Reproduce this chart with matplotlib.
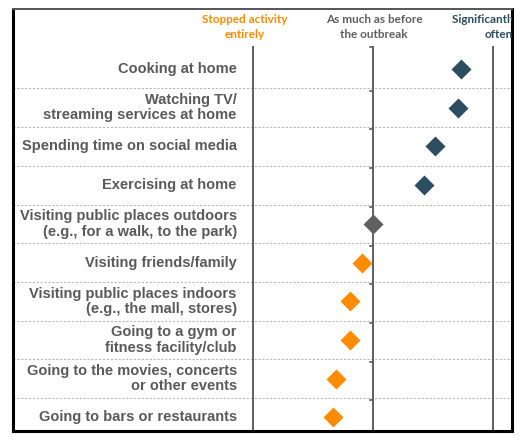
import matplotlib.pyplot as plt
import numpy as np

# données (1 = arrêt total, 3 = comme avant, 5 = beaucoup plus souvent)
activites = [
    "Cooking at home",
    "Watching TV/\nstreaming services at home",
    "Spending time on social media",
    "Exercising at home",
    "Visiting public places outdoors\n(e.g., for a walk, to the park)",
    "Visiting friends/family",
    "Visiting public places indoors\n(e.g., the mall, stores)",
    "Going to a gym or\nfitness facility/club",
    "Going to the movies, concerts\nor other events",
    "Going to bars or restaurants",
]
scores = [4.47, 4.42, 4.03, 3.85, 3.0, 2.82, 2.62, 2.62, 2.38, 2.33]
echelle = [1, 3, 5]
entetes = ["Stopped activity\nentirely", "As much as before\nthe outbreak", "Significantly more\noften"]

bleu = '#2d4d60'
gris = '#5f5f5f'
orange = '#ff8c00'
couleurs_entetes = [orange, gris, bleu]


def couleur(v):
    if v > 3.05:
        return bleu
    if v < 2.95:
        return orange
    return gris


W, H = 526, 443
fig = plt.figure(figsize=(W / 100, H / 100), dpi=100)
# cadre : x 13..512, y 9..431 (pixels)
ax = fig.add_axes([13 / W, 1 - 431 / H, (512 - 13) / W, (431 - 9) / H])

px = 60.0  # pixels par unité
ax.set_xlim(1 - (253 - 13) / px, 1 + (512 - 253) / px)
pas = 38.72
ax.set_ylim((431 - 69) / pas, (9 - 69) / pas)

y = np.arange(len(activites))

# séparateurs pointillés
for s in y[:-1] + 0.5:
    ax.axhline(s, color='#b8b8b8', ls=(0, (2, 1.5)), lw=0.8, zorder=1)

# lignes verticales de l'échelle
haut = (47 - 69) / pas
for v in echelle:
    ax.plot([v, v], [haut, ax.get_ylim()[0]], color=gris, lw=1.4, zorder=2, clip_on=False)

# petites graduations sur la ligne du milieu (vers la gauche)
for s in np.concatenate([[haut], y[:-1] + 0.56]):
    ax.plot([echelle[1] - 0.05, echelle[1]], [s, s], color=gris, lw=1.2, zorder=2)

# losanges
for yi, v in zip(y, scores):
    ax.plot(v, yi, marker='D', ms=10, color=couleur(v), mec='none', zorder=3)

# libellés
for yi, lab in zip(y, activites):
    ax.text(0.73, yi, lab, ha='right', va='center', fontsize=10.55, fontweight='bold',
            color='#5a5a5a', family='Liberation Sans', linespacing=1.12)

# en-têtes
pos_entetes = [0.87, 3.02, 5.1]
for xe, txt, c in zip(pos_entetes, entetes, couleurs_entetes):
    ax.text(xe, (27 - 69) / pas, txt, ha='center', va='center', fontsize=8.5, fontweight='bold',
            color=c, family='Lato', linespacing=1.45, clip_on=True)

ax.set_xticks([])
ax.set_yticks([])
for nom in ['left', 'right', 'bottom']:
    ax.spines[nom].set_color('black')
    ax.spines[nom].set_linewidth(2.2)
ax.spines['top'].set_color('#555555')
ax.spines['top'].set_linewidth(1.4)

fig.savefig('out.png', dpi=100)
